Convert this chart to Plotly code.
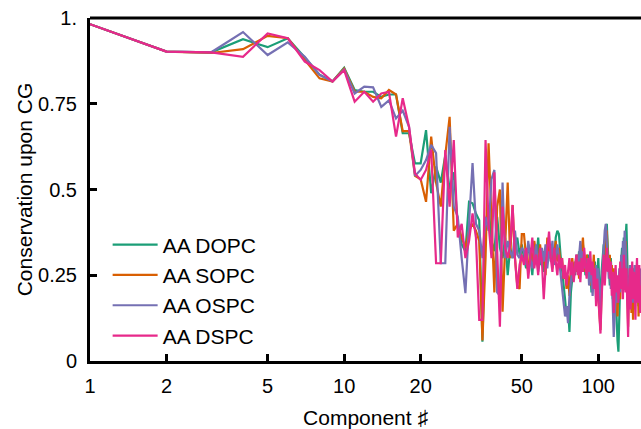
import plotly.graph_objects as go

components = list(range(1, 148))

dopc = [0.982, 0.902, 0.900, 0.938, 0.915, 0.941, 0.885, 0.835, 0.815, 0.855,
        0.790, 0.785, 0.785, 0.770, 0.777, 0.777, 0.664, 0.664, 0.576, 0.576,
        0.673, 0.489, 0.567, 0.52, 0.60, 0.50, 0.55, 0.40, 0.34, 0.32,
        0.464, 0.46, 0.43, 0.41, 0.056, 0.40, 0.45, 0.35, 0.32, 0.42,
        0.33, 0.30, 0.36, 0.25, 0.33, 0.30, 0.33, 0.36, 0.31, 0.34,
        0.30, 0.27, 0.34, 0.31, 0.25, 0.33, 0.29, 0.36, 0.28, 0.31,
        0.26, 0.33, 0.30, 0.35, 0.29, 0.32, 0.28, 0.36, 0.38, 0.37,
        0.31, 0.27, 0.22, 0.18, 0.13, 0.16, 0.085, 0.20, 0.24, 0.27,
        0.25, 0.30, 0.27, 0.32, 0.26, 0.29, 0.34, 0.30, 0.25, 0.28,
        0.31, 0.24, 0.27, 0.20, 0.26, 0.23, 0.29, 0.18, 0.25, 0.30,
        0.22, 0.15, 0.26, 0.30, 0.34, 0.28, 0.37, 0.40, 0.33, 0.27,
        0.22, 0.30, 0.25, 0.18, 0.26, 0.14, 0.20, 0.10, 0.06, 0.027,
        0.15, 0.24, 0.29, 0.33, 0.27, 0.36, 0.31, 0.38, 0.40, 0.30,
        0.18, 0.25, 0.21, 0.28, 0.17, 0.24, 0.20, 0.27, 0.15, 0.23,
        0.26, 0.19, 0.24, 0.16, 0.22, 0.25, 0.20]

sopc = [0.982, 0.902, 0.898, 0.909, 0.948, 0.941, 0.878, 0.824, 0.815, 0.853,
        0.785, 0.785, 0.770, 0.766, 0.790, 0.777, 0.670, 0.670, 0.540, 0.530,
        0.464, 0.654, 0.52, 0.45, 0.60, 0.712, 0.38, 0.40, 0.36, 0.33,
        0.38, 0.40, 0.38, 0.35, 0.06, 0.30, 0.635, 0.40, 0.20, 0.45,
        0.50, 0.144, 0.35, 0.52, 0.30, 0.455, 0.30, 0.22, 0.21, 0.37,
        0.37, 0.30, 0.26, 0.33, 0.28, 0.35, 0.31, 0.27, 0.34, 0.29,
        0.32, 0.25, 0.36, 0.30, 0.34, 0.27, 0.31, 0.35, 0.29, 0.33,
        0.28, 0.30, 0.24, 0.26, 0.21, 0.25, 0.19, 0.27, 0.30, 0.25,
        0.29, 0.26, 0.31, 0.24, 0.28, 0.33, 0.36, 0.29, 0.26, 0.31,
        0.27, 0.30, 0.22, 0.28, 0.25, 0.31, 0.21, 0.27, 0.24, 0.19,
        0.12, 0.09, 0.20, 0.26, 0.30, 0.24, 0.35, 0.38, 0.30, 0.26,
        0.31, 0.23, 0.28, 0.21, 0.27, 0.17, 0.24, 0.20, 0.13, 0.22,
        0.26, 0.18, 0.30, 0.25, 0.32, 0.22, 0.28, 0.35, 0.26, 0.21,
        0.10, 0.24, 0.19, 0.27, 0.14, 0.22, 0.12, 0.26, 0.18, 0.23,
        0.28, 0.20, 0.25, 0.13, 0.21, 0.26, 0.22]

ospc = [0.982, 0.902, 0.900, 0.959, 0.892, 0.929, 0.887, 0.834, 0.815, 0.850,
        0.780, 0.800, 0.798, 0.741, 0.760, 0.707, 0.730, 0.683, 0.540, 0.557,
        0.586, 0.63, 0.606, 0.285, 0.285, 0.683, 0.45, 0.42, 0.30, 0.198,
        0.40, 0.577, 0.40, 0.38, 0.30, 0.42, 0.38, 0.53, 0.557, 0.20,
        0.19, 0.52, 0.30, 0.35, 0.32, 0.30, 0.38, 0.31, 0.30, 0.33,
        0.32, 0.28, 0.35, 0.30, 0.27, 0.31, 0.34, 0.26, 0.30, 0.33,
        0.29, 0.34, 0.27, 0.32, 0.30, 0.35, 0.28, 0.31, 0.34, 0.30,
        0.26, 0.22, 0.18, 0.13, 0.16, 0.11, 0.19, 0.23, 0.27, 0.24,
        0.28, 0.31, 0.26, 0.30, 0.35, 0.28, 0.32, 0.27, 0.30, 0.25,
        0.29, 0.22, 0.27, 0.24, 0.19, 0.26, 0.23, 0.28, 0.21, 0.27,
        0.18, 0.14, 0.22, 0.29, 0.33, 0.38, 0.40, 0.35, 0.29, 0.24,
        0.28, 0.21, 0.25, 0.16, 0.07, 0.13, 0.20, 0.24, 0.17, 0.22,
        0.27, 0.20, 0.31, 0.26, 0.35, 0.29, 0.38, 0.33, 0.25, 0.20,
        0.15, 0.23, 0.28, 0.19, 0.25, 0.21, 0.17, 0.24, 0.28, 0.20,
        0.24, 0.18, 0.26, 0.21, 0.17, 0.23, 0.27]

dspc = [0.982, 0.902, 0.900, 0.887, 0.955, 0.941, 0.873, 0.848, 0.815, 0.848,
        0.756, 0.785, 0.756, 0.780, 0.785, 0.654, 0.766, 0.683, 0.547, 0.528,
        0.557, 0.615, 0.285, 0.285, 0.615, 0.45, 0.644, 0.36, 0.40, 0.30,
        0.35, 0.43, 0.36, 0.12, 0.12, 0.644, 0.40, 0.30, 0.55, 0.30,
        0.10, 0.45, 0.33, 0.30, 0.34, 0.455, 0.30, 0.21, 0.28, 0.31,
        0.28, 0.33, 0.24, 0.30, 0.36, 0.27, 0.31, 0.25, 0.33, 0.29,
        0.18, 0.27, 0.32, 0.377, 0.30, 0.26, 0.33, 0.28, 0.25, 0.31,
        0.27, 0.30, 0.24, 0.28, 0.22, 0.26, 0.30, 0.25, 0.29, 0.23,
        0.27, 0.31, 0.25, 0.29, 0.23, 0.30, 0.26, 0.33, 0.28, 0.24,
        0.30, 0.26, 0.32, 0.25, 0.29, 0.21, 0.27, 0.16, 0.24, 0.19,
        0.13, 0.08, 0.18, 0.25, 0.31, 0.22, 0.28, 0.33, 0.26, 0.30,
        0.24, 0.29, 0.19, 0.26, 0.14, 0.22, 0.28, 0.20, 0.25, 0.17,
        0.23, 0.29, 0.21, 0.27, 0.18, 0.31, 0.24, 0.20, 0.27, 0.16,
        0.07, 0.20, 0.27, 0.15, 0.24, 0.29, 0.18, 0.26, 0.21, 0.12,
        0.25, 0.30, 0.17, 0.24, 0.28, 0.14, 0.22]

series_names = ["AA DOPC", "AA SOPC", "AA OSPC", "AA DSPC"]
series_values = [dopc, sopc, ospc, dspc]
series_colors = ["#1b9e77", "#d95f02", "#7570b3", "#e7298a"]

x_tickvals = [1, 2, 5, 10, 20, 50, 100]
x_ticktext = ["1", "2", "5", "10", "20", "50", "100"]
y_tickvals = [0, 0.25, 0.5, 0.75, 1]
y_ticktext = ["0", "0.25", "0.5", "0.75", "1."]

font_family = "Liberation Sans, Arial, Helvetica, sans-serif"

fig = go.Figure()
for name, vals, col in zip(series_names, series_values, series_colors):
    fig.add_trace(go.Scatter(x=components, y=vals, mode="lines", name=name,
                             line=dict(color=col, width=2.2)))

fig.update_layout(
    width=641, height=429,
    margin=dict(l=90, r=0, t=18, b=68, autoexpand=False),
    plot_bgcolor="white", paper_bgcolor="white",
    font=dict(family=font_family, size=21, color="black"),
    showlegend=True,
    legend=dict(x=0.032, y=0.398, xanchor="left", yanchor="top",
                bgcolor="rgba(0,0,0,0)", font=dict(size=21),
                itemwidth=45, tracegroupgap=0),
    shapes=[dict(type="line", xref="paper", yref="paper", x0=0, x1=1, y0=1, y1=1,
                 line=dict(color="black", width=3))],
)
fig.update_xaxes(type="log", range=[0, 2.168], tickvals=x_tickvals, ticktext=x_ticktext,
                 ticks="inside", ticklen=7, tickwidth=3, tickcolor="black",
                 showline=True, linecolor="black", linewidth=3, showgrid=False,
                 zeroline=False, automargin=False, ticklabelstandoff=5,
                 title=dict(text="Component ♯", standoff=17, font=dict(size=21)),
                 tickfont=dict(size=20))
fig.update_yaxes(range=[0, 1], tickvals=y_tickvals, ticktext=y_ticktext,
                 ticks="inside", ticklen=7, tickwidth=3, tickcolor="black",
                 showline=True, linecolor="black", linewidth=3, showgrid=False,
                 zeroline=False, automargin=False, ticklabelstandoff=6,
                 title=dict(text="Conservation upon CG", standoff=0, font=dict(size=21)),
                 tickfont=dict(size=20))

fig.write_html("out.html", config={"displayModeBar": False},
               post_script="document.body.style.margin='0';document.body.style.overflow='hidden';")
